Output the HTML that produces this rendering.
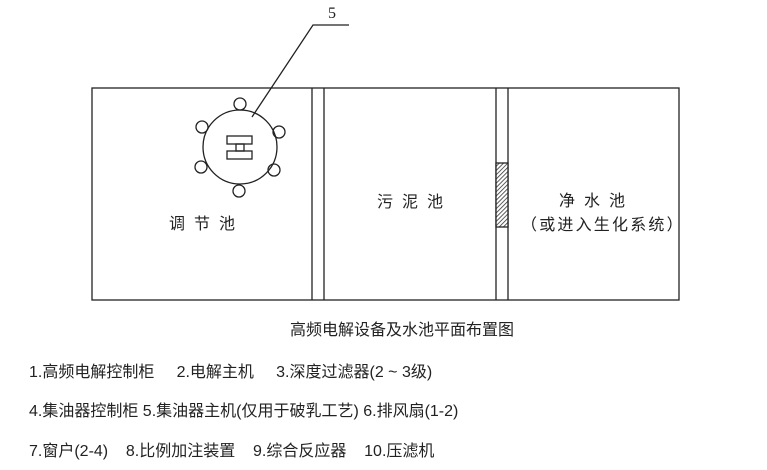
<!DOCTYPE html>
<html><head><meta charset="utf-8"><style>
body{margin:0;background:#fff;width:767px;height:470px;overflow:hidden;position:relative;font-family:"Liberation Sans","Noto Sans CJK SC",sans-serif;color:#222}
.t{position:absolute;white-space:pre;line-height:1}
</style></head><body>
<svg width="767" height="470" style="position:absolute;left:0;top:0">
<defs><pattern id="h" width="3" height="3" patternUnits="userSpaceOnUse" patternTransform="rotate(45)"><rect width="3" height="3" fill="#fff"/><line x1="0" y1="0" x2="0" y2="3" stroke="#333" stroke-width="1.6"/></pattern></defs>
<g fill="none" stroke="#222" stroke-width="1.3">
<rect x="92" y="88" width="587" height="212"/>
<line x1="312" y1="88" x2="312" y2="300"/><line x1="324" y1="88" x2="324" y2="300"/>
<line x1="496" y1="88" x2="496" y2="300"/><line x1="508" y1="88" x2="508" y2="300"/>
<rect x="496" y="163" width="12" height="64" fill="url(#h)"/>
<circle cx="240" cy="147" r="37"/>
<circle cx="240" cy="104" r="6"/><circle cx="202" cy="127" r="6"/><circle cx="279" cy="132" r="6"/>
<circle cx="201" cy="167" r="6"/><circle cx="274" cy="170" r="6"/><circle cx="239" cy="191" r="6"/>
<rect x="227" y="136" width="25" height="8"/><rect x="227" y="151" width="25" height="8"/>
<rect x="236" y="144" width="8" height="7"/>
<polyline points="252,117 313,25 349,25"/>
</g></svg>
<div class="t" style="left:328px;top:6px;font-family:'Liberation Serif',serif;font-size:16px">5</div>
<div class="t" style="left:169px;top:217px;font-size:16px;letter-spacing:9px">调节池</div>
<div class="t" style="left:377px;top:195px;font-size:16px;letter-spacing:9px">污泥池</div>
<div class="t" style="left:559px;top:194px;font-size:16px;letter-spacing:9px">净水池</div>
<div class="t" style="left:521px;top:218px;font-size:16px;letter-spacing:2.2px">（或进入生化系统）</div>
<div class="t" style="left:290px;top:323px;font-size:16px">高频电解设备及水池平面布置图</div>
<div class="t" style="left:29px;top:365px;font-size:16px">1.高频电解控制柜     2.电解主机     3.深度过滤器(2 ~ 3级)</div>
<div class="t" style="left:29px;top:404px;font-size:16px">4.集油器控制柜 5.集油器主机(仅用于破乳工艺) 6.排风扇(1-2)</div>
<div class="t" style="left:29px;top:444px;font-size:16px">7.窗户(2-4)    8.比例加注装置    9.综合反应器    10.压滤机</div>
</body></html>
